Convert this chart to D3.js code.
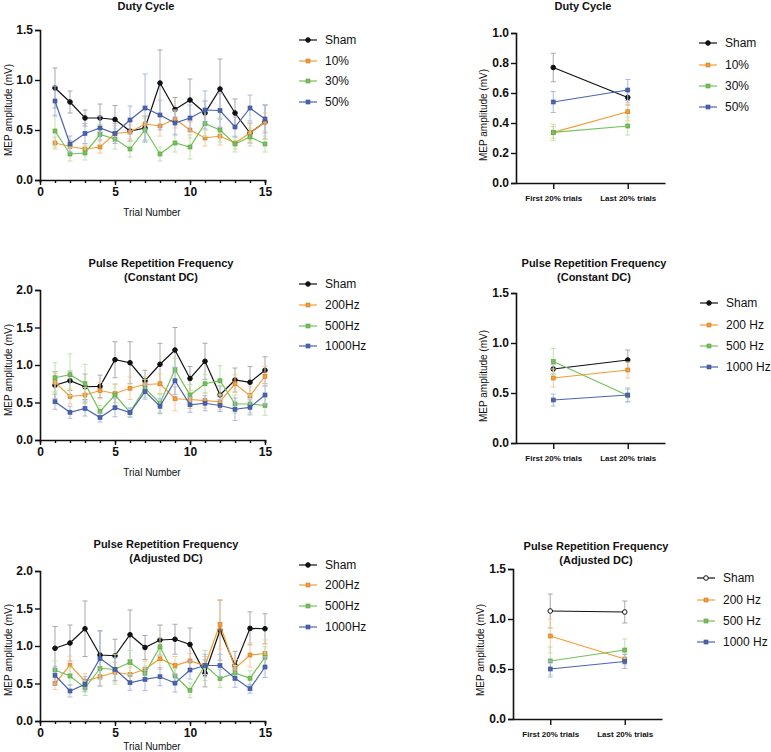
<!DOCTYPE html>
<html>
<head>
<meta charset="utf-8">
<script src="https://cdn.jsdelivr.net/npm/d3@7"></script>
<style>
  body { margin: 0; background: #fff; }
  svg { font-family: "Liberation Sans", Arial, sans-serif; }
</style>
</head>
<body>
<svg id="chart" width="771" height="752"></svg>
<script>
// trial-by-trial data (15 trials)
var trials = d3.range(1, 16);

// Duty cycle
var dcNames = ["Sham", "10%", "30%", "50%"];
var dcSham = [0.92, 0.78, 0.62, 0.62, 0.605, 0.49, 0.52, 0.97, 0.705, 0.80, 0.67, 0.91, 0.67, 0.47, 0.58];
var dc10 = [0.37, 0.335, 0.31, 0.33, 0.465, 0.48, 0.56, 0.54, 0.61, 0.50, 0.42, 0.44, 0.37, 0.47, 0.58];
var dc30 = [0.49, 0.26, 0.27, 0.455, 0.41, 0.31, 0.50, 0.26, 0.37, 0.33, 0.565, 0.50, 0.36, 0.43, 0.36];
var dc50 = [0.79, 0.36, 0.465, 0.52, 0.465, 0.60, 0.72, 0.65, 0.57, 0.62, 0.70, 0.695, 0.53, 0.72, 0.61];
var dcShamErr = [0.20, 0.11, 0.08, 0.14, 0.14, 0.10, 0.12, 0.33, 0.12, 0.21, 0.12, 0.30, 0.14, 0.10, 0.17];
var dc10Err = [0.06, 0.06, 0.05, 0.06, 0.08, 0.07, 0.08, 0.10, 0.09, 0.08, 0.08, 0.09, 0.06, 0.08, 0.09];
var dc30Err = [0.16, 0.07, 0.07, 0.10, 0.10, 0.08, 0.12, 0.07, 0.09, 0.12, 0.13, 0.12, 0.08, 0.09, 0.08];
var dc50Err = [0.15, 0.08, 0.10, 0.12, 0.10, 0.14, 0.34, 0.15, 0.12, 0.13, 0.19, 0.17, 0.10, 0.13, 0.14];

// PRF, constant DC
var prfNames = ["Sham", "200Hz", "500Hz", "1000Hz"];
var cSham = [0.73, 0.79, 0.71, 0.715, 1.07, 1.03, 0.79, 1.01, 1.20, 0.82, 1.05, 0.60, 0.80, 0.77, 0.93];
var c200 = [0.77, 0.58, 0.60, 0.66, 0.62, 0.69, 0.74, 0.75, 0.55, 0.54, 0.525, 0.51, 0.75, 0.59, 0.85];
var c500 = [0.83, 0.87, 0.75, 0.38, 0.60, 0.37, 0.69, 0.49, 0.94, 0.60, 0.75, 0.79, 0.48, 0.48, 0.46];
var c1000 = [0.51, 0.37, 0.42, 0.30, 0.43, 0.365, 0.645, 0.45, 0.79, 0.47, 0.49, 0.46, 0.41, 0.435, 0.60];
var cShamErr = [0.18, 0.13, 0.17, 0.15, 0.24, 0.28, 0.14, 0.28, 0.30, 0.16, 0.24, 0.12, 0.16, 0.21, 0.18];
var c200Err = [0.12, 0.10, 0.10, 0.11, 0.12, 0.15, 0.10, 0.13, 0.16, 0.12, 0.10, 0.10, 0.12, 0.12, 0.13];
var c500Err = [0.20, 0.28, 0.26, 0.08, 0.15, 0.06, 0.12, 0.12, 0.15, 0.14, 0.12, 0.20, 0.12, 0.12, 0.13];
var c1000Err = [0.10, 0.08, 0.10, 0.06, 0.12, 0.06, 0.10, 0.10, 0.18, 0.10, 0.10, 0.08, 0.15, 0.10, 0.12];

// PRF, adjusted DC
var aSham = [0.97, 1.04, 1.23, 0.88, 0.87, 1.15, 0.98, 1.08, 1.09, 1.02, 0.635, 1.21, 0.74, 1.235, 1.23];
var a200 = [0.50, 0.745, 0.53, 0.59, 0.65, 0.62, 0.69, 0.83, 0.74, 0.80, 0.74, 1.29, 0.70, 0.88, 0.90];
var a500 = [0.68, 0.60, 0.44, 0.70, 0.69, 0.78, 0.635, 0.99, 0.60, 0.41, 0.74, 0.565, 0.64, 0.57, 0.85];
var a1000 = [0.61, 0.40, 0.49, 0.835, 0.69, 0.51, 0.555, 0.59, 0.505, 0.68, 0.74, 0.74, 0.57, 0.43, 0.72];
var aShamErr = [0.29, 0.24, 0.37, 0.32, 0.22, 0.33, 0.16, 0.20, 0.20, 0.22, 0.18, 0.40, 0.19, 0.22, 0.20];
var a200Err = [0.08, 0.12, 0.10, 0.12, 0.13, 0.10, 0.11, 0.14, 0.12, 0.10, 0.12, 0.33, 0.12, 0.16, 0.18];
var a500Err = [0.12, 0.12, 0.10, 0.14, 0.20, 0.16, 0.10, 0.12, 0.10, 0.10, 0.20, 0.12, 0.10, 0.10, 0.14];
var a1000Err = [0.12, 0.08, 0.10, 0.37, 0.15, 0.10, 0.15, 0.12, 0.12, 0.12, 0.15, 0.15, 0.12, 0.06, 0.14];

// first vs last 20% of trials
var phases = ["First 20% trials", "Last 20% trials"];
var prfNames2 = ["Sham", "200 Hz", "500 Hz", "1000 Hz"];
var s1Mean = [[0.77, 0.57], [0.337, 0.475], [0.337, 0.38], [0.54, 0.62]];
var s1Err = [[0.095, 0.05], [0.04, 0.06], [0.055, 0.06], [0.07, 0.07]];
var s2Mean = [[0.74, 0.83], [0.65, 0.73], [0.815, 0.475], [0.43, 0.48]];
var s2Err = [[0.05, 0.10], [0.09, 0.08], [0.13, 0.06], [0.06, 0.07]];
var s3Mean = [[1.08, 1.07], [0.83, 0.60], [0.58, 0.69], [0.50, 0.575]];
var s3Err = [[0.17, 0.11], [0.17, 0.06], [0.14, 0.11], [0.08, 0.07]];

var colors = ["#111111", "#f59b34", "#72c257", "#4a64b2"];
var errColors = ["#a8a8a8", "#f7c996", "#bde3ab", "#aab8e2"];

var svg = d3.select("#chart");

function title(lines, cx, y0) {
  lines.forEach(function(t, i) {
    svg.append("text").attr("x", cx).attr("y", y0 + i * 14)
      .attr("text-anchor", "middle").attr("font-size", 11).attr("font-weight", "bold")
      .attr("fill", "#111").text(t);
  });
}

function yTitle(x, y) {
  svg.append("text").attr("transform", "translate(" + x + "," + y + ") rotate(-90)")
    .attr("text-anchor", "middle").attr("dominant-baseline", "central")
    .attr("font-size", 10).attr("fill", "#111").text("MEP amplitude (mV)");
}

function legend(names, x0, rows, marker) {
  names.forEach(function(n, i) {
    var g = svg.append("g").attr("transform", "translate(" + x0 + "," + rows[i] + ")");
    g.append("line").attr("x1", 0).attr("x2", 18).attr("stroke", colors[i]).attr("stroke-width", 1.2);
    drawMarker(g, 9, 0, i, marker);
    g.append("text").attr("x", 26).attr("y", 0).attr("dominant-baseline", "central")
      .attr("font-size", 12).attr("fill", "#111").text(n);
  });
}

function drawMarker(g, x, y, i, openSham) {
  if (i === 0) {
    g.append("circle").attr("cx", x).attr("cy", y).attr("r", 2.3)
      .attr("fill", openSham ? "#fff" : colors[0]).attr("stroke", colors[0]).attr("stroke-width", 1);
  } else {
    g.append("rect").attr("x", x - 2).attr("y", y - 2).attr("width", 4).attr("height", 4)
      .attr("fill", colors[i]).attr("stroke", d3.color(colors[i]).darker(0.6)).attr("stroke-width", 0.6);
  }
}

function series(g, xs, ys, errs, xf, y, i, openSham) {
  xs.forEach(function(xv, k) {
    var cx = xf(xv), lo = y(ys[k] - errs[k]), hi = y(ys[k] + errs[k]);
    g.append("line").attr("x1", cx).attr("x2", cx).attr("y1", lo).attr("y2", hi)
      .attr("stroke", errColors[i]).attr("stroke-width", 1);
    [lo, hi].forEach(function(v) {
      g.append("line").attr("x1", cx - 2.5).attr("x2", cx + 2.5).attr("y1", v).attr("y2", v)
        .attr("stroke", errColors[i]).attr("stroke-width", 1);
    });
  });
  g.append("path").datum(ys)
    .attr("d", d3.line().x(function(d, k) { return xf(xs[k]); }).y(function(d) { return y(d); }))
    .attr("fill", "none").attr("stroke", colors[i]).attr("stroke-width", 1.2);
  xs.forEach(function(xv, k) { drawMarker(g, xf(xv), y(ys[k]), i, openSham); });
}

function styleAxis(a) {
  a.select(".domain").attr("stroke", "#111").attr("stroke-width", 1.6);
  a.selectAll(".tick line").attr("stroke", "#111").attr("stroke-width", 1.4);
  a.selectAll("text").attr("font-size", 12).attr("font-weight", "bold").attr("fill", "#111");
}

function trialPanel(o) {
  var x = d3.scaleLinear().domain([0, 15]).range([40, 265]);
  var y = d3.scaleLinear().domain([0, o.ymax]).range([o.bottom, o.bottom - 150]);
  var g = svg.append("g");
  o.data.forEach(function(s, i) { series(g, trials, s, o.errs[i], x, y, i, false); });
  var ax = svg.append("g").attr("transform", "translate(0," + o.bottom + ")")
    .call(d3.axisBottom(x).tickValues(trials).tickSize(3).tickFormat(""));
  styleAxis(ax);
  var ax2 = svg.append("g").attr("transform", "translate(0," + o.bottom + ")")
    .call(d3.axisBottom(x).tickValues([0, 5, 10, 15]).tickSize(5).tickPadding(2).tickFormat(d3.format("d")));
  styleAxis(ax2);
  ax2.select(".domain").remove();
  var ay = svg.append("g").attr("transform", "translate(40,0)")
    .call(d3.axisLeft(y).ticks(o.ymax / 0.5).tickSize(5).tickPadding(2).tickFormat(d3.format(".1f")));
  styleAxis(ay);
  svg.append("text").attr("x", 152).attr("y", o.bottom + o.xtitle).attr("text-anchor", "middle")
    .attr("dominant-baseline", "central").attr("font-size", 10).attr("fill", "#111").text("Trial Number");
  yTitle(8, o.ytitle);
  title(o.title, o.tx, o.ty);
  legend(o.names, 299, o.rows, false);
}

function phasePanel(o) {
  var x = d3.scalePoint().domain(phases).range([o.left, o.left + 149]).padding(0.5);
  var y = d3.scaleLinear().domain([0, o.ymax]).range([o.bottom, o.bottom - 150]);
  var g = svg.append("g");
  o.mean.forEach(function(s, i) { series(g, phases, s, o.err[i], x, y, i, o.open); });
  var ax = svg.append("g").attr("transform", "translate(0," + o.bottom + ")")
    .call(d3.axisBottom(x).tickSize(6).tickSizeOuter(0).tickPadding(6));
  styleAxis(ax);
  ax.selectAll("text").attr("font-size", 8);
  var ay = svg.append("g").attr("transform", "translate(" + o.left + ",0)")
    .call(d3.axisLeft(y).tickValues(d3.range(0, o.ymax + 1e-9, o.step)).tickSize(5).tickPadding(2)
      .tickFormat(d3.format(".1f")));
  styleAxis(ay);
  yTitle(o.left - 33, o.ytitle);
  title(o.title, o.tx, o.ty);
  legend(o.names, o.lx, o.rows, o.open);
}

trialPanel({ ymax: 1.5, bottom: 180, data: [dcSham, dc10, dc30, dc50],
  errs: [dcShamErr, dc10Err, dc30Err, dc50Err], names: dcNames, xtitle: 32,
  title: ["Duty Cycle"], tx: 146, ty: 10, ytitle: 110, rows: [40, 61, 81, 102] });
trialPanel({ ymax: 2, bottom: 440, data: [cSham, c200, c500, c1000],
  errs: [cShamErr, c200Err, c500Err, c1000Err], names: prfNames, xtitle: 32,
  title: ["Pulse Repetition Frequency", "(Constant DC)"], tx: 161, ty: 267, ytitle: 370, rows: [284, 305, 326, 346] });
trialPanel({ ymax: 2, bottom: 721, data: [aSham, a200, a500, a1000],
  errs: [aShamErr, a200Err, a500Err, a1000Err], names: prfNames, xtitle: 25,
  title: ["Pulse Repetition Frequency", "(Adjusted DC)"], tx: 166, ty: 548, ytitle: 650, rows: [565, 585, 606, 627] });

phasePanel({ left: 516, ymax: 1, step: 0.2, bottom: 183, mean: s1Mean, err: s1Err, names: dcNames,
  title: ["Duty Cycle"], tx: 583, ty: 10, ytitle: 115, lx: 699, rows: [43, 65, 86, 107], open: false });
phasePanel({ left: 516, ymax: 1.5, step: 0.5, bottom: 443, mean: s2Mean, err: s2Err, names: prfNames2,
  title: ["Pulse Repetition Frequency", "(Constant DC)"], tx: 594, ty: 267, ytitle: 376, lx: 700, rows: [303, 325, 346, 367], open: false });
phasePanel({ left: 513, ymax: 1.5, step: 0.5, bottom: 719, mean: s3Mean, err: s3Err, names: prfNames2,
  title: ["Pulse Repetition Frequency", "(Adjusted DC)"], tx: 596, ty: 550, ytitle: 650, lx: 697, rows: [578, 600, 621, 642], open: true });
</script>
</body>
</html>
